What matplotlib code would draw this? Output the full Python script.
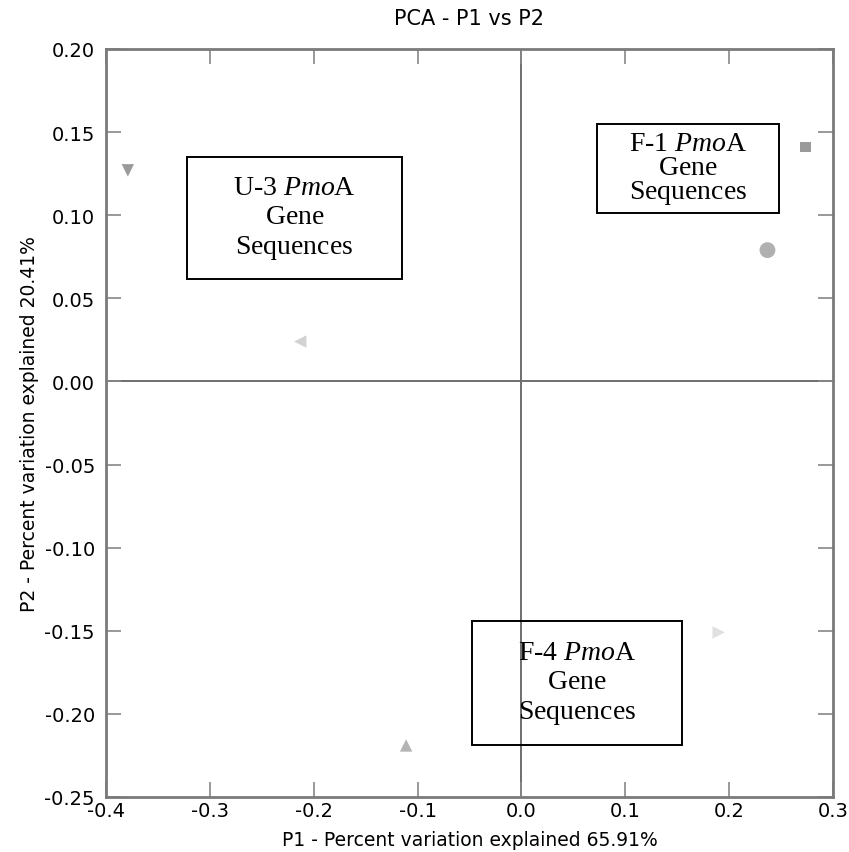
import matplotlib
matplotlib.use("Agg")
import matplotlib.pyplot as plt
from matplotlib.patches import Rectangle

plt.rcParams['font.family'] = 'DejaVu Sans'
plt.rcParams['mathtext.fontset'] = 'custom'
plt.rcParams['mathtext.rm'] = 'Liberation Serif'
plt.rcParams['mathtext.it'] = 'Liberation Serif:italic'

# PCA scores (P1, P2) for each sample
p1 = [-0.379, -0.213, 0.274, 0.237, 0.190, -0.111]
p2 = [0.127, 0.024, 0.141, 0.079, -0.151, -0.219]
markers = ['v', '<', 's', 'o', '>', '^']
colors = ['#9a9a9a', '#d2d2d2', '#9a9a9a', '#b0b0b0', '#e0e0e0', '#b4b4b4']
sizes = [80, 80, 60, 130, 80, 80]

xticks = [-0.4, -0.3, -0.2, -0.1, 0.0, 0.1, 0.2, 0.3]
yticks = [0.20, 0.15, 0.10, 0.05, 0.00, -0.05, -0.10, -0.15, -0.20, -0.25]

# annotation boxes: (label, x0, y0, x1, y1, line spacing)
boxes = [
    ("U-3", -0.322, 0.0616, -0.115, 0.135, 1.22),
    ("F-1", 0.0726, 0.1013, 0.2477, 0.1549, 0.92),
    ("F-4", -0.0477, -0.2188, 0.1544, -0.144, 1.22),
]

fig = plt.figure(figsize=(8.49, 8.53), dpi=100)
ax = fig.add_axes([0.1249, 0.0645, 0.981 - 0.1249, 0.9414 - 0.0645])

ax.axhline(0, color='#6e6e6e', lw=1.4, zorder=1)
ax.axvline(0, color='#6e6e6e', lw=1.4, zorder=1)

for x, y, m, c, s in zip(p1, p2, markers, colors, sizes):
    ax.scatter(x, y, marker=m, s=s, color=c, edgecolors='none', zorder=3)

for name, x0, y0, x1, y1, ls in boxes:
    ax.add_patch(Rectangle((x0, y0), x1 - x0, y1 - y0, fill=False,
                           edgecolor='black', lw=1.4, zorder=4))
    ax.text((x0 + x1) / 2, (y0 + y1) / 2,
            name + r" $\mathit{Pmo}$A" + "\n$\\mathrm{Gene}$\n$\\mathrm{Sequences}$",
            ha='center', va='center', fontsize=20, family='Liberation Serif',
            linespacing=ls, zorder=5)

ax.set_xlim(-0.4, 0.3)
ax.set_ylim(-0.25, 0.20)
ax.set_xticks(xticks)
ax.set_xticklabels([f"{v:.1f}" for v in xticks])
ax.set_yticks(yticks)
ax.set_yticklabels([f"{v:.2f}" for v in yticks])
ax.tick_params(direction='in', length=11, width=1.2, color='#888888',
               labelsize=14, top=True, right=True)
ax.tick_params(axis='y', pad=8)
ax.tick_params(axis='x', pad=3)
for sp in ax.spines.values():
    sp.set_color('#7a7a7a')
    sp.set_linewidth(2)

ax.set_title("PCA - P1 vs P2", fontsize=15, pad=18)
ax.set_xlabel("P1 - Percent variation explained 65.91%", fontsize=13.5, labelpad=7)
ax.set_ylabel("P2 - Percent variation explained 20.41%", fontsize=13.5, labelpad=4)

fig.savefig("out.png", dpi=100)
